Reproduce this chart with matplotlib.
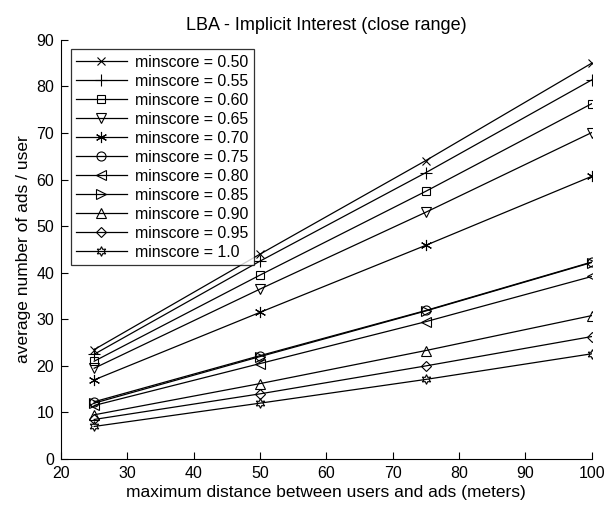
import matplotlib
matplotlib.use("Agg")
import matplotlib.pyplot as plt

distances = [25, 50, 75, 100]
labels = ["minscore = 0.50", "minscore = 0.55", "minscore = 0.60", "minscore = 0.65",
          "minscore = 0.70", "minscore = 0.75", "minscore = 0.80", "minscore = 0.85",
          "minscore = 0.90", "minscore = 0.95", "minscore = 1.0"]
s050 = [23.5, 44.0, 64.1, 85.0]
s055 = [22.5, 42.5, 61.5, 81.4]
s060 = [21.0, 39.5, 57.5, 76.3]
s065 = [19.5, 36.5, 53.0, 70.1]
s070 = [17.0, 31.5, 45.9, 60.7]
s075 = [12.3, 22.2, 31.9, 42.3]
s080 = [11.5, 20.5, 29.5, 39.2]
s085 = [12.0, 22.0, 31.8, 42.2]
s090 = [9.5, 16.2, 23.3, 30.8]
s095 = [8.5, 14.0, 20.0, 26.3]
s100 = [7.0, 12.0, 17.1, 22.6]
series = [s050, s055, s060, s065, s070, s075, s080, s085, s090, s095, s100]
markers = ['x', '+', 's', 'v', (6, 2, 0), 'o', '<', '>', '^', 'D', (6, 1, 0)]
msizes = [5.5, 8, 5.5, 7, 8, 6.5, 7.5, 7.5, 7.5, 5.5, 7]

plt.rcParams['font.family'] = ['Liberation Sans', 'DejaVu Sans']
fig = plt.figure(figsize=(6.1, 5.05), dpi=100)
ax = fig.add_axes([0.1, 0.091, 0.87, 0.830])
for vals, lab, mk, ms in zip(series, labels, markers, msizes):
    ax.plot(distances, vals, color='black', lw=0.9, marker=mk, ms=ms,
            mfc='none', mec='black', mew=0.8, label=lab)
ax.set_xlim(20, 100)
ax.set_ylim(0, 90)
ax.set_xticks(range(20, 101, 10))
ax.set_yticks(range(0, 91, 10))
ax.spines['top'].set_visible(False)
ax.spines['right'].set_visible(False)
ax.tick_params(direction='in', labelsize=11.5, length=5, pad=5)
ax.set_xlabel('maximum distance between users and ads (meters)', fontsize=12.5, labelpad=3)
ax.set_ylabel('average number of ads / user', fontsize=12.5, labelpad=4)
ax.set_title('LBA - Implicit Interest (close range)', fontsize=13, pad=7)
leg = ax.legend(loc='upper left', fontsize=11.4, frameon=True, fancybox=False,
                edgecolor='black', handlelength=3.2, borderaxespad=0.6,
                labelspacing=0.25, handletextpad=0.5, borderpad=0.35)
leg.get_frame().set_linewidth(0.9)
fig.savefig('out.png', dpi=100)
